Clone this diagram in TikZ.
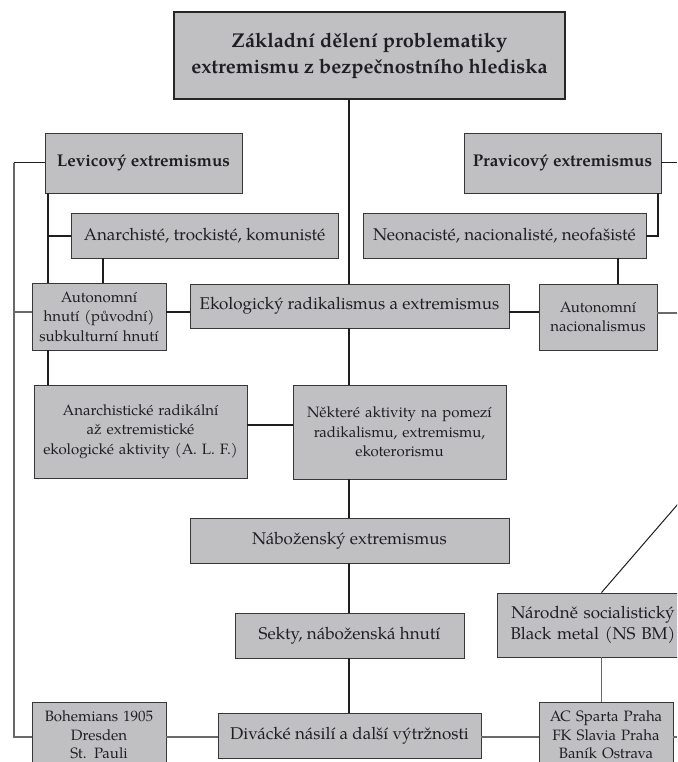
\documentclass[tikz,border=0pt]{standalone}
\usepackage{fontspec}
\setmainfont{TeX Gyre Pagella}
\definecolor{boxfill}{RGB}{192,192,195}
\definecolor{boxdraw}{RGB}{55,55,58}
\definecolor{txt}{RGB}{30,30,35}
\definecolor{darkline}{RGB}{30,30,30}
\definecolor{greyline}{RGB}{105,105,105}
\tikzset{
  box/.style={draw=boxdraw, fill=boxfill, line width=0.9pt, inner sep=2pt, align=center, text=txt},
  bigtxt/.style={font=\fontsize{17}{21}\selectfont},
  smalltxt/.style={font=\fontsize{15}{19.5}\selectfont},
  bottxt/.style={font=\fontsize{15}{18.5}\selectfont},
  conn/.style={draw=darkline, line width=1.7pt},
  thinconn/.style={draw=darkline, line width=1.0pt},
  greyconn/.style={draw=greyline, line width=1.3pt},
}
\begin{document}
\begin{tikzpicture}[x=1pt,y=-1pt]
\useasboundingbox (0,0) rectangle (677,762);
\clip (0,0) rectangle (677,762);
\fill[white] (0,0) rectangle (677,762);
% nodes
\node[box, draw=black!85, line width=2.6pt, minimum width=391pt, minimum height=87pt,
      font=\fontsize{20}{26}\selectfont\bfseries] (top) at (369.5,55.5)
  {Základní dělení problematiky\\extremismu z bezpečnostního hlediska};
\node[box, minimum width=197pt, minimum height=60pt, font=\fontsize{17}{21}\selectfont\bfseries] (lev) at (143.5,163) {Levicový extremismus};
\node[box, minimum width=197pt, minimum height=60pt, font=\fontsize{17}{21}\selectfont\bfseries] (prav) at (562.5,163) {Pravicový extremismus};
\node[box, bigtxt, minimum width=267pt, minimum height=45pt] (anar) at (204.5,235.5) {Anarchisté, trockisté, komunisté};
\node[box, bigtxt, minimum width=283pt, minimum height=45pt] (neo) at (504.5,235.5) {Neonacisté, nacionalisté, neofašisté};
\node[box, smalltxt, minimum width=134pt, minimum height=67pt, text width=128pt] (auth) at (99,316.5) {Autonomní\\hnutí (původní)\\subkulturní hnutí};
\node[box, bigtxt, minimum width=319pt, minimum height=44pt] (eko) at (349.5,306) {Ekologický radikalismus a extremismus};
\node[box, smalltxt, minimum width=118pt, minimum height=66pt, text width=112pt] (autnac) at (598,317) {Autonomní\\nacionalismus};
\node[box, smalltxt, minimum width=213pt, minimum height=93pt, text width=205pt] (anrad) at (140.5,431.5) {Anarchistické radikální\\až extremistické\\ekologické aktivity (A. L. F.)};
\node[box, smalltxt, minimum width=213pt, minimum height=94pt, text width=205pt] (nekt) at (399.5,432) {Některé aktivity na pomezí\\radikalismu, extremismu,\\ekoterorismu};
\node[box, bigtxt, minimum width=319pt, minimum height=45pt] (nab) at (349.5,540.5) {Náboženský extremismus};
\node[box, bigtxt, minimum width=229pt, minimum height=45pt] (sekty) at (349.5,635.5) {Sekty, náboženská hnutí};
\node[box, bigtxt, minimum width=263pt, minimum height=45pt] (div) at (349.5,735.5) {Divácké násilí a další výtržnosti};
\node[box, bigtxt, minimum width=192pt, minimum height=64pt, text width=186pt] (nar) at (593,625) {Národně socialistický\\Black metal (NS BM)};
\node[box, bottxt, minimum width=134pt, minimum height=66pt, text width=128pt] (boh) at (99,735) {Bohemians 1905\\Dresden\\St. Pauli};
\node[box, bottxt, minimum width=134pt, minimum height=66pt, text width=128pt] (ac) at (606,735) {AC Sparta Praha\\FK Slavia Praha\\Baník Ostrava};
% helper coordinates
\coordinate (sp) at (349,0);
\coordinate (lx) at (48,0);
\coordinate (ox) at (14,0);
\coordinate (rx) at (658,0);
\coordinate (ax) at (103,0);
\coordinate (nx) at (618,0);
\coordinate (bx) at (601.5,0);
\coordinate (y236) at (0,236);
\coordinate (y312) at (0,312);
\coordinate (y425) at (0,425);
\coordinate (y737) at (0,737);
\coordinate (ePrav) at (677,163);
\coordinate (eAut) at (677,313);
\coordinate (eAc) at (677,737);
\coordinate (eDiag) at (678,504);
\coordinate (lTop) at (14,163);
\coordinate (lBot) at (14,737);
\coordinate (lMid) at (48,236);
\coordinate (rMid) at (658,236);
% central spine
\draw[conn] (top.south -| sp) -- (eko.north -| sp);
\draw[conn] (eko.south -| sp) -- (nekt.north -| sp);
\draw[conn] (nekt.south -| sp) -- (nab.north -| sp);
\draw[conn] (nab.south -| sp) -- (sekty.north -| sp);
\draw[conn] (sekty.south -| sp) -- (div.north -| sp);
% left branch
\draw[conn] (lev.south -| lx) -- (auth.north -| lx);
\draw[conn] (auth.south -| lx) -- (anrad.north -| lx);
\draw[conn] (lMid) -- (anar.west |- lMid);
\draw[conn] (anar.south -| ax) -- (auth.north -| ax);
\draw[conn] (auth.east |- y312) -- (eko.west |- y312);
\draw[conn] (eko.east |- y312) -- (autnac.west |- y312);
\draw[conn] (anrad.east |- y425) -- (nekt.west |- y425);
% outer left line
\draw[thinconn] (lTop) -- (lev.west);
\draw[greyconn] (lTop) -- (lBot) -- (boh.west |- lBot);
\draw[greyconn] (ox |- y312) -- (auth.west |- y312);
% right branch
\draw[thinconn] (prav.east) -- (ePrav);
\draw[conn] (prav.south -| rx) -- (rMid) -- (neo.east |- rMid);
\draw[conn] (neo.south -| nx) -- (autnac.north -| nx);
\draw[greyconn] (autnac.east |- eAut) -- (eAut);
\draw[thinconn] (nar.north -| bx) -- (eDiag);
\draw[greyconn] (nar.south -| bx) -- (ac.north -| bx);
% bottom row
\draw[greyconn] (boh.east |- y737) -- (div.west |- y737);
\draw[greyconn] (div.east |- y737) -- (ac.west |- y737);
\draw[greyconn] (ac.east |- y737) -- (eAc);
\end{tikzpicture}
\end{document}
